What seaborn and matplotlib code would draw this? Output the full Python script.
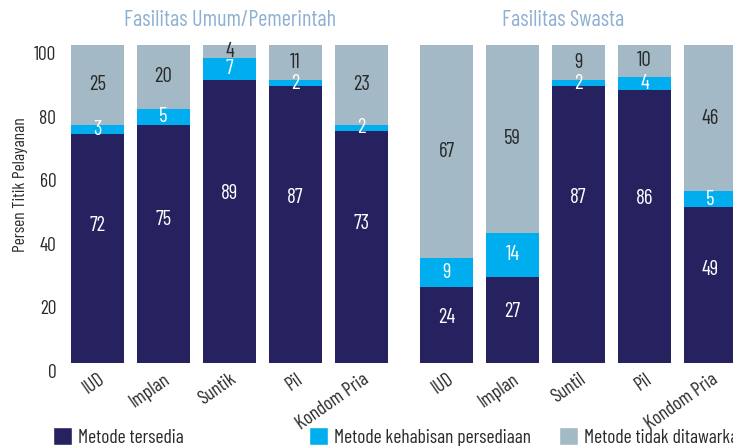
import matplotlib
matplotlib.use("Agg")
import matplotlib.pyplot as plt
import seaborn as sns
import pandas as pd
from matplotlib.transforms import ScaledTranslation
from matplotlib.patches import Patch

# ---- data ----
left_cats = ["IUD", "Implan", "Suntik", "Pil", "Kondom Pria"]
right_cats = ["IUD", "Implan", "Suntil", "Pil", "Kondom Pria"]
left_avail = [72, 75, 89, 87, 73]
left_out = [3, 5, 7, 2, 2]
left_not = [25, 20, 4, 11, 23]
right_avail = [24, 27, 87, 86, 49]
right_out = [9, 14, 2, 4, 5]
right_not = [67, 59, 9, 10, 46]
series_names = ["Metode tersedia", "Metode kehabisan persediaan", "Metode tidak ditawarkan"]
panel_titles = ["Fasilitas Umum/Pemerintah", "Fasilitas Swasta"]
y_ticks = [0, 20, 40, 60, 80, 100]
y_label = "Persen Titik Pelayanan"
full_scale = 100  # stacked bars fill the whole percentage scale

# ---- style ----
NAVY = "#26215F"
CYAN = "#00AEEF"
GREY = "#A3B9C6"
TITLE_C = "#8DB0D3"
TEXT_C = "#2a2a2a"

sns.set_style("white")
plt.rcParams["font.family"] = ["Barlow Condensed", "DejaVu Sans"]

W, H = 733, 446
fig = plt.figure(figsize=(W / 100, H / 100), dpi=100)
ax1 = fig.add_axes([64.5 / W, 83 / H, 330 / W, 318 / H])
ax2 = fig.add_axes([413.5 / W, 83 / H, 330 / W, 318 / H])


def draw(ax, cats, avail, out, notoff):
    df = pd.DataFrame({"cat": cats, "avail": avail, "out": out, "not": notoff})
    df["mid"] = df["avail"] + df["out"]
    df["total"] = (df["mid"] + df["not"]).clip(lower=full_scale)
    for col, c in (("total", GREY), ("mid", CYAN), ("avail", NAVY)):
        sns.barplot(data=df, x="cat", y=col, color=c, saturation=1, width=0.8,
                    errorbar=None, linewidth=0, ax=ax)
    for i, r in df.iterrows():
        ax.text(i, r["avail"] * 0.6, str(r["avail"]), color="white", ha="center",
                va="center", fontsize=15)
        ax.text(i, r["avail"] + r["out"] / 2, str(r["out"]), color="white", ha="center",
                va="center", fontsize=15)
        ax.text(i, r["mid"] + (r["total"] - r["mid"]) / 2, str(r["not"]), color=TEXT_C,
                ha="center", va="center", fontsize=15)
    ax.set_xlim(-0.5, 4.5)
    ax.set_ylim(0, 100)
    for s in ax.spines.values():
        s.set_visible(False)
    ax.set_xlabel("")
    ax.set_ylabel("")
    ax.tick_params(length=0)
    ax.set_xticks(range(len(cats)))
    ax.set_xticklabels(cats, rotation=35, ha="right", rotation_mode="anchor",
                       fontsize=14, color=TEXT_C)
    ax.tick_params(axis="x", pad=5)


draw(ax1, left_cats, left_avail, left_out, left_not)
draw(ax2, right_cats, right_avail, right_out, right_not)

ax1.set_yticks(y_ticks)
ax1.set_yticklabels([str(t) for t in y_ticks], fontsize=14, color=TEXT_C)
ax1.tick_params(axis="y", pad=6)
off = ScaledTranslation(0, -8 / 100, fig.dpi_scale_trans)
for lab in ax1.get_yticklabels():
    lab.set_transform(lab.get_transform() + off)
ax1.set_ylabel(y_label, fontsize=12.5, color=TEXT_C)
ax1.yaxis.set_label_coords(-0.112, 0.56)
ax2.set_yticks([])

fig.text(230 / W, 1 - 21 / H, panel_titles[0], color=TITLE_C, fontsize=16,
         ha="center", va="center")
fig.text(563 / W, 1 - 21 / H, panel_titles[1], color=TITLE_C, fontsize=16,
         ha="center", va="center")

for name, col, x in zip(series_names, (NAVY, CYAN, GREY), (53, 309, 559)):
    fig.legend(handles=[Patch(facecolor=col, label=name)], loc="center left",
               bbox_to_anchor=(x / W, 9 / H), frameon=False, fontsize=14,
               borderpad=0, borderaxespad=0, handlelength=1.0, handleheight=1.05,
               handletextpad=0.3, labelcolor=TEXT_C)

fig.savefig("out.png", dpi=100)
